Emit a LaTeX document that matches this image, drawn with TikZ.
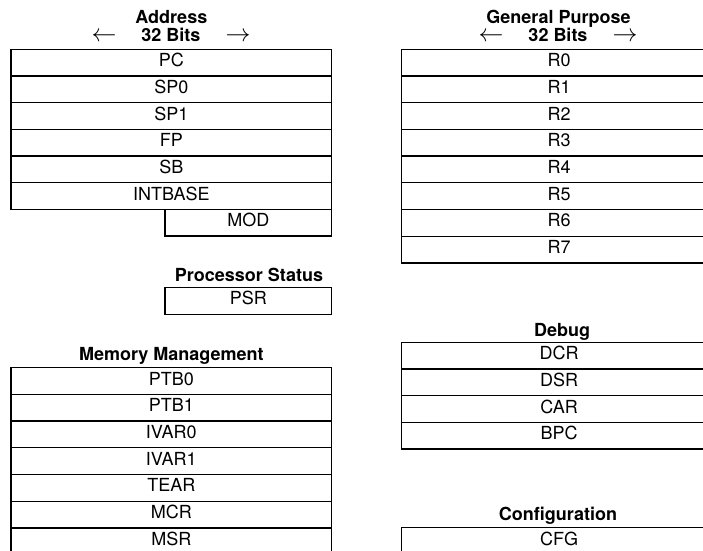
\documentclass[tikz,border=0pt]{standalone}
\usepackage{fontspec}
\setmainfont{TeX Gyre Heros}
\newcommand{\bigarr}[1]{\smash{\fontsize{24}{24}\selectfont$#1$}}
\begin{document}
\begin{tikzpicture}[x=1pt,y=-1pt,
  cell/.style={draw, line width=1.3pt, inner sep=0pt, outer sep=0pt,
    minimum height=26.7pt, text height=13pt, text depth=5pt,
    font=\fontsize{18}{21}\selectfont},
  wide/.style={cell, minimum width=320.7pt},
  wider/.style={cell, minimum width=314.6pt},
  half/.style={cell, minimum width=166.7pt},
  title/.style={anchor=base, inner sep=0pt, font=\fontsize{18}{21}\selectfont\bfseries}]
\useasboundingbox (0,0) rectangle (703,550);
\clip (0,0) rectangle (703,550);
% Address registers
\node[title] (addrtitle) at (171.35,23.5) {Address};
\node[title] (addrbits) at (171,41.7) {\bigarr{\leftarrow}\hspace{25pt}32 Bits\hspace{25pt}\bigarr{\rightarrow}};
\foreach \t/\n [count=\i from 0] in {PC/pc,SP0/sp0,SP1/sp1,FP/fp,SB/sb,INTBASE/intbase}
  \node[wide] (\n) at (171.35,{62.65+26.7*\i}) {\t};
\node[half] (mod) at (248.35,222.65) {MOD};
% Processor status
\node[title] (pstitle) at (249,281.7) {Processor Status};
\node[half, minimum height=27pt] (psr) at (248.35,300.8) {PSR};
% Memory management
\node[title] (mmtitle) at (171.35,360) {Memory Management};
\foreach \t/\n [count=\i from 0] in {PTB0/ptb0,PTB1/ptb1,IVAR0/ivar0,IVAR1/ivar1,TEAR/tear,MCR/mcr,MSR/msr}
  \node[wide] (\n) at (171.35,{381.05+26.7*\i}) {\t};
% General purpose
\node[title] (gptitle) at (558.5,23.5) {General Purpose};
\node[title] (gpbits) at (558,41.7) {\bigarr{\leftarrow}\hspace{25pt}32 Bits\hspace{25pt}\bigarr{\rightarrow}};
\foreach \t/\n [count=\i from 0] in {R0/r0,R1/r1,R2/r2,R3/r3,R4/r4,R5/r5,R6/r6,R7/r7}
  \node[wider] (\n) at (559,{62.65+26.7*\i}) {\t};
% Debug
\node[title] (dbtitle) at (562,336.7) {Debug};
\foreach \t/\n [count=\i from 0] in {DCR/dcr,DSR/dsr,CAR/car,BPC/bpc}
  \node[wider] (\n) at (559,{355.65+26.7*\i}) {\t};
% Configuration
\node[title] (cfgtitle) at (558,520) {Configuration};
\node[wider] (cfg) at (559,541.05) {CFG};
\end{tikzpicture}
\end{document}
